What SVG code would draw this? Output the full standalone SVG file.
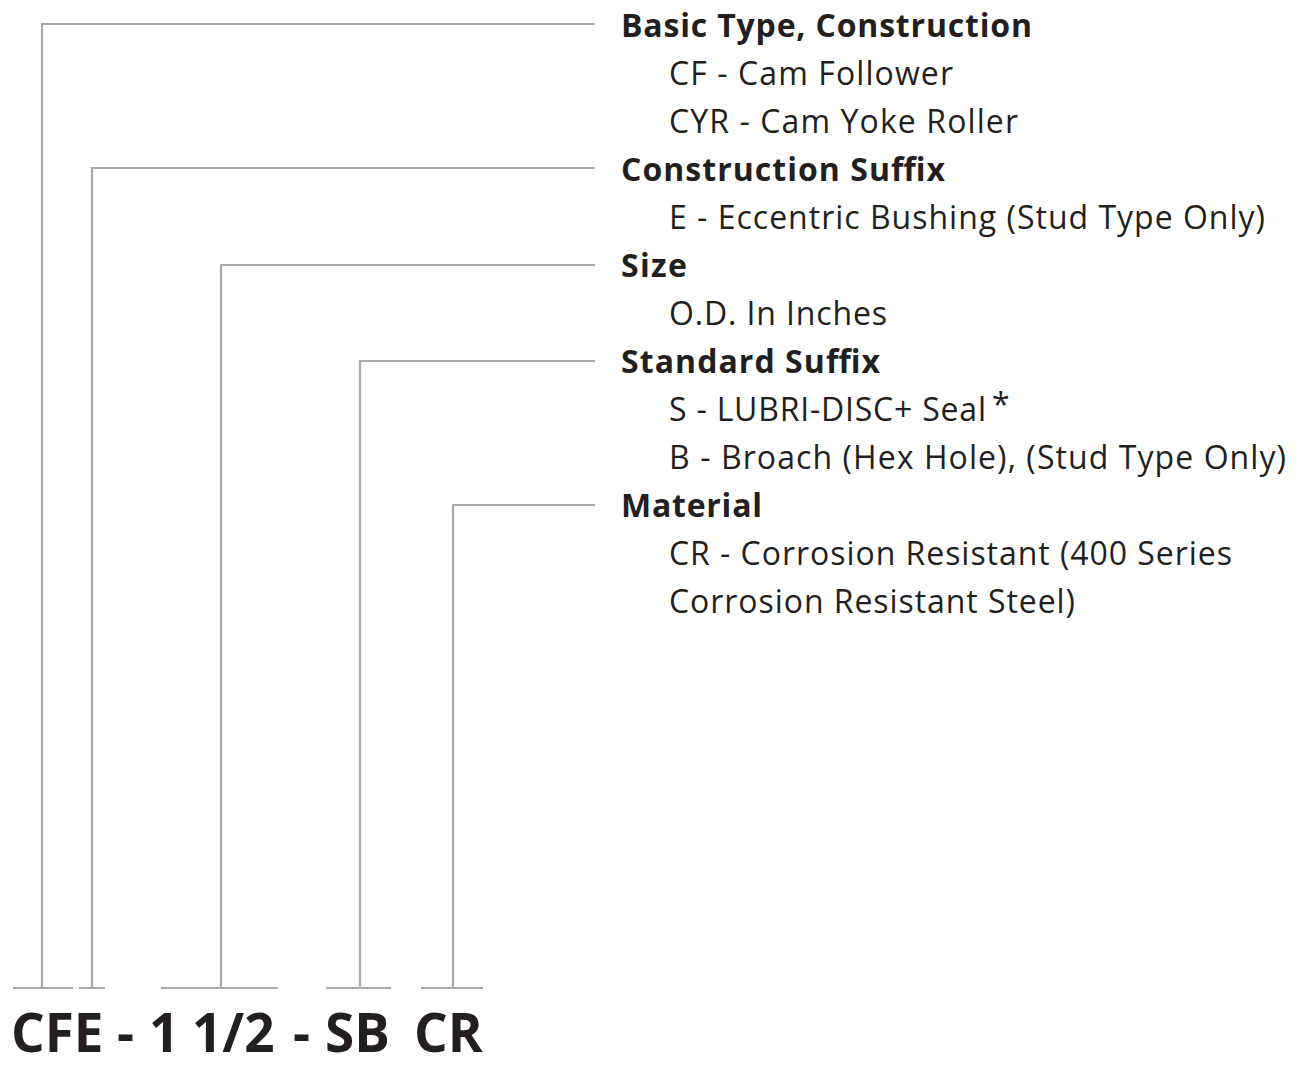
<svg xmlns="http://www.w3.org/2000/svg" width="1303" height="1066" viewBox="0 0 1303 1066">
<style>
.ln{fill:none;stroke:#a7a9ac;stroke-width:2.2}
.h{font-family:"Open Sans","Liberation Sans",sans-serif;font-weight:700;font-size:32px;fill:#231f20}
.t{font-family:"Open Sans","Liberation Sans",sans-serif;font-weight:400;font-size:32px;fill:#231f20}
.code{font-family:"Open Sans","Liberation Sans",sans-serif;font-weight:700;font-size:53px;fill:#231f20}
</style>
<rect width="1303" height="1066" fill="#fff"/>
<g id="connectors">
<path class="ln" d="M42,988 V24 H595"/>
<path class="ln" d="M92,988 V168 H595"/>
<path class="ln" d="M221,988 V265 H595"/>
<path class="ln" d="M360,988 V361 H595"/>
<path class="ln" d="M453,988 V505 H595"/>
<path class="ln" d="M13,988 H73 M79,988 H105 M161,988 H278 M326,988 H391 M421,988 H483"/>
</g>
<g id="code">
<text class="code" x="11" y="1052">CFE</text>
<text class="code" x="117" y="1052">-</text>
<text class="code" x="149" y="1052">1</text>
<text class="code" x="192" y="1052">1/2</text>
<text class="code" x="293" y="1052">-</text>
<text class="code" x="325" y="1052">SB</text>
<text class="code" x="414" y="1052">CR</text>
</g>
<g id="basic-type">
<text class="h" x="621" y="37" textLength="411">Basic Type, Construction</text>
<text class="t" x="669" y="85" textLength="284">CF - Cam Follower</text>
<text class="t" x="669" y="133" textLength="349">CYR - Cam Yoke Roller</text>
</g>
<g id="construction-suffix">
<text class="h" x="621" y="181" textLength="324">Construction Suffix</text>
<text class="t" x="669" y="229" textLength="596">E - Eccentric Bushing (Stud Type Only)</text>
</g>
<g id="size">
<text class="h" x="621" y="277" textLength="66">Size</text>
<text class="t" x="669" y="325" textLength="218">O.D. In Inches</text>
</g>
<g id="standard-suffix">
<text class="h" x="621" y="373" textLength="259">Standard Suffix</text>
<text class="t" x="669" y="421" textLength="317">S - LUBRI-DISC+ Seal</text>
<text class="t" x="992" y="416" font-size="20">*</text>
<text class="t" x="669" y="469" textLength="617">B - Broach (Hex Hole), (Stud Type Only)</text>
</g>
<g id="material">
<text class="h" x="621" y="517" textLength="141">Material</text>
<text class="t" x="669" y="565" textLength="563">CR - Corrosion Resistant (400 Series</text>
<text class="t" x="669" y="613" textLength="406">Corrosion Resistant Steel)</text>
</g>
</svg>
